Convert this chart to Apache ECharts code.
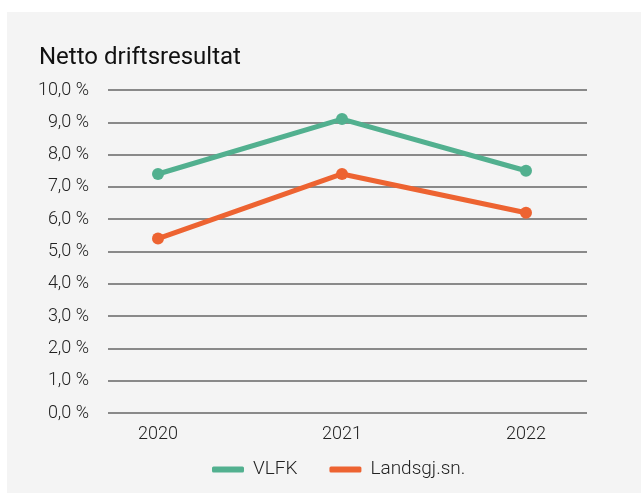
<!DOCTYPE html>
<html>
<head>
<meta charset="utf-8">
<script src="https://cdn.jsdelivr.net/npm/echarts@6/dist/echarts.min.js"></script>
<style>
  html, body { margin: 0; padding: 0; background: #ffffff; }
  #panel { position: absolute; left: 7px; top: 12px; width: 634px; height: 481px; background: #f4f4f4; }
  #chart { position: absolute; left: 0; top: 0; width: 641px; height: 493px; }
</style>
</head>
<body>
<div id="panel"></div>
<div id="chart"></div>
<script>
// data
var years = ['2020', '2021', '2022'];
var vlfk = [7.4, 9.1, 7.5];
var landsgj = [5.4, 7.4, 6.2];
var seriesNames = ['VLFK', 'Landsgj.sn.'];
var colors = ['#52b08f', '#ed6331'];

var myChart = echarts.init(document.getElementById('chart'));

var labelFont = { fontFamily: 'Roboto', fontWeight: 300, fontSize: 18, color: '#222' };

var option = {
    backgroundColor: 'transparent',
    title: {
        text: 'Netto driftsresultat',
        left: 34,
        top: 41,
        textStyle: { fontFamily: 'Roboto', fontWeight: 400, fontSize: 24, color: '#111' }
    },
    legend: {
        data: seriesNames,
        left: 207,
        top: 455,
        icon: 'roundRect',
        itemWidth: 32,
        itemHeight: 6,
        itemGap: 32,
        textStyle: { fontFamily: 'Roboto', fontWeight: 300, fontSize: 19, color: '#222', padding: [0, 0, 0, 4] }
    },
    // grid 0 carries the y labels and gridlines, grid 1 carries the data
    grid: [
        { left: 108, right: 54, top: 90, bottom: 80 },
        { left: 158, right: 115, top: 90, bottom: 80 }
    ],
    xAxis: [
        {
            type: 'category', gridIndex: 0, data: years,
            show: false
        },
        {
            type: 'category', gridIndex: 1, data: years,
            boundaryGap: false,
            axisLine: { show: false },
            axisTick: { show: false },
            axisLabel: Object.assign({ margin: 12 }, labelFont)
        }
    ],
    yAxis: [
        {
            type: 'value', gridIndex: 0, min: 0, max: 10, interval: 1,
            axisLine: { show: false },
            axisTick: { show: false },
            axisLabel: Object.assign({
                margin: 19,
                formatter: function (v) { return v.toFixed(1).replace('.', ',') + ' %'; }
            }, labelFont),
            splitLine: { lineStyle: { color: '#666', width: 1.5 } }
        },
        {
            type: 'value', gridIndex: 1, min: 0, max: 10, interval: 1,
            show: false,
            splitLine: { show: false }
        }
    ],
    series: [
        {
            name: seriesNames[0], type: 'line', xAxisIndex: 1, yAxisIndex: 1,
            data: vlfk, color: colors[0],
            symbol: 'circle', symbolSize: 12,
            lineStyle: { width: 5 }
        },
        {
            name: seriesNames[1], type: 'line', xAxisIndex: 1, yAxisIndex: 1,
            data: landsgj, color: colors[1],
            symbol: 'circle', symbolSize: 12,
            lineStyle: { width: 5 }
        }
    ]
};

myChart.setOption(option);
</script>
</body>
</html>
